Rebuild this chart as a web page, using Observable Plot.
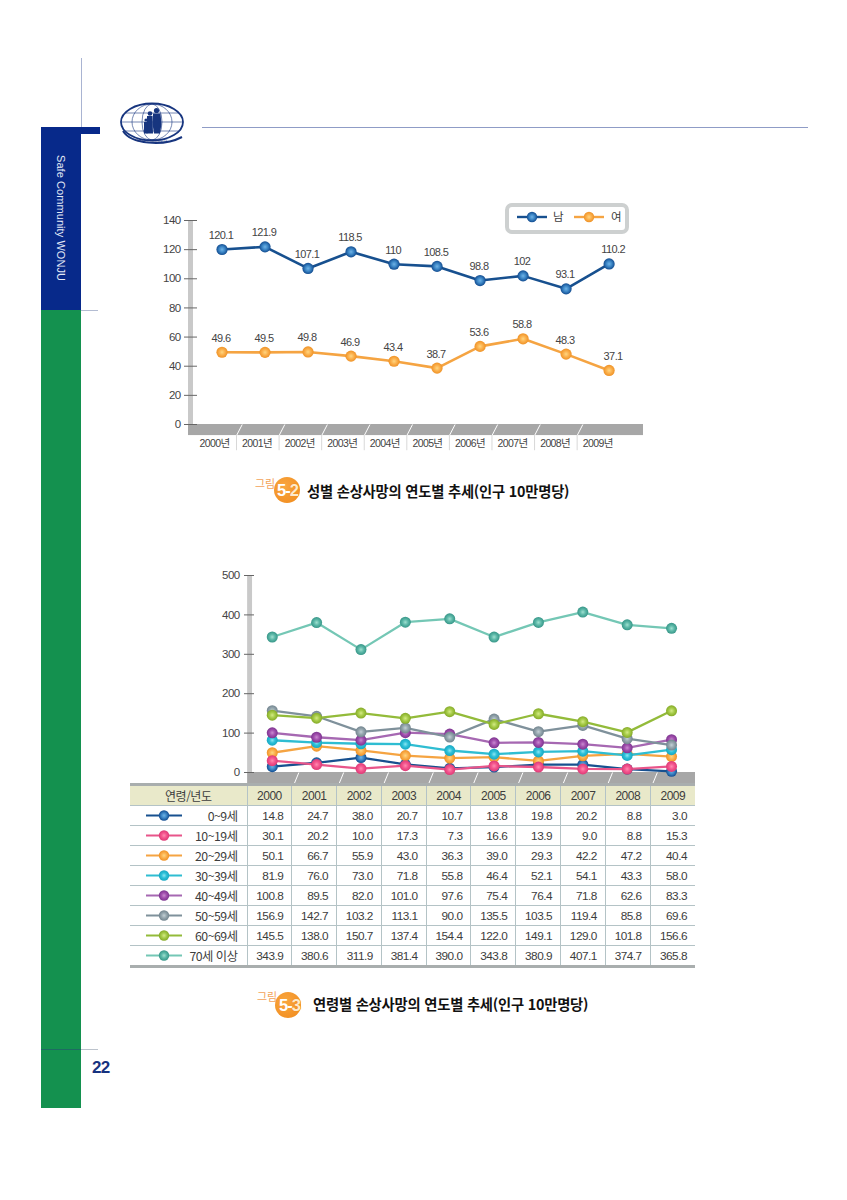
<!DOCTYPE html>
<html lang="ko">
<head>
<meta charset="utf-8">
<script src="https://cdn.jsdelivr.net/npm/d3@7"></script>
<script src="https://cdn.jsdelivr.net/npm/@observablehq/plot@0.6"></script>
<style>
html,body{margin:0;padding:0;background:#fff}
#page{position:relative;width:847px;height:1200px;overflow:hidden;font-family:"Liberation Sans","Noto Sans CJK KR",sans-serif;color:#3d3d3d}
.abs{position:absolute}
#page>svg,#c1 svg,#c2 svg{display:block}
table{border-collapse:collapse;table-layout:fixed;font-size:11.8px;letter-spacing:-.5px}
td,th{padding:0;height:19px;font-weight:normal;border:1px solid #b4c3c6;overflow:hidden;white-space:nowrap}
th{background:#e9e9ca;height:19px;text-align:center;font-size:12px}
td.n{text-align:right;padding-right:8px}
tr>*:first-child{border-left:none}
tr>*:last-child{border-right:none}
thead th{border-top:3px solid #a9aeae}
tbody tr:last-child td{border-bottom:3px solid #a9aeae}
td.k{position:relative;text-align:right;padding-right:9px;font-family:"Noto Sans CJK KR",sans-serif;font-size:12.3px}
td.k svg{position:absolute;left:16px;top:2px}
.cap{font-family:"Noto Sans CJK KR",sans-serif;font-weight:700;font-size:14.3px;color:#111;letter-spacing:-.2px;white-space:nowrap}
.badge{width:26px;height:26px;border-radius:50%;background:radial-gradient(circle at 40% 35%,#f9a63f,#f08a1c)}
.bt{font-family:"Liberation Sans",sans-serif;font-weight:700;color:#fff;font-size:16.5px;letter-spacing:-1px;white-space:nowrap}
.bt span{color:#fdeacb;text-shadow:0 0 1px #f08a1c,0 0 1px #f08a1c}
.gl{font-family:"Noto Sans CJK KR",sans-serif;color:#f3a35a;font-size:11px;white-space:nowrap}
</style>
</head>
<body>
<div id="page">
  <!-- page furniture -->
  <div class="abs" style="left:81px;top:58px;width:1px;height:69px;background:#a9b4d2"></div>
  <div class="abs" style="left:41px;top:127px;width:40px;height:183px;background:#07298a"></div>
  <div class="abs" style="left:81px;top:127px;width:19px;height:7px;background:#07298a"></div>
  <div class="abs" style="left:41px;top:310px;width:40px;height:798px;background:#14914f"></div>
  <div class="abs" style="left:81px;top:310px;width:17px;height:1px;background:#b3bcd2"></div>
  <div class="abs" style="left:41px;top:1049px;width:40px;height:1px;background:#1d6b62"></div>
  <div class="abs" style="left:81px;top:1049px;width:17px;height:1px;background:#bcc3cc"></div>
  <div class="abs" style="left:202px;top:127px;width:606px;height:1px;background:#8f9cc6"></div>
  <div class="abs" style="left:55px;top:155px;writing-mode:vertical-rl;color:#e4e9f6;font-size:11px;letter-spacing:.07px;white-space:nowrap">Safe Community WONJU</div>
  <div class="abs" style="left:92px;top:1058px;color:#16327f;font-weight:700;font-size:17px;letter-spacing:-.6px">22</div>

  <svg class="abs" style="left:117px;top:100px" width="70" height="48" viewBox="0 0 70 48">
    <g fill="none" stroke="#17357f">
      <ellipse cx="35" cy="22" rx="31" ry="18.5" stroke-width="1.8"/>
      <g stroke-width=".6">
        <ellipse cx="35" cy="22" rx="10" ry="18"/><ellipse cx="35" cy="22" rx="20" ry="18"/>
        <path d="M5 22H65M9 13H61M9 31H61"/>
      </g>
      <path d="M6 31C14 44 46 47 65 37" stroke-width="2"/>
    </g>
    <g fill="#17357f">
      <circle cx="39.500" cy="10.500" r="2.600"/><path d="M36 13.500h7.500l1 10.500-1.500 9.500h-6l-1.500-9.500z"/>
      <circle cx="33" cy="13.500" r="2.300"/><path d="M30 16h5.500l.5 17.500h-6.500z"/>
      <circle cx="29" cy="20" r="1.600"/><path d="M27 22h3.500v11.500h-3.500z"/>
    </g>
    <text x="35" y="41.500" text-anchor="middle" font-size="3.400" font-family="Liberation Sans" fill="#17357f">SAFE COMMUNITY</text>
  </svg>

  <div id="c1" class="abs" style="left:0;top:205px"></div>
  <div id="c2" class="abs" style="left:0;top:565px"></div>

  <!-- chart 1 legend -->
  <div class="abs" style="left:505px;top:203px;width:116px;height:23px;border:4px solid #cdd0d0;border-radius:7px;background:#fff"></div>
  <div id="leg" class="abs" style="left:505px;top:203px;width:124px;height:30px"></div>

  <!-- captions -->
  <div class="abs gl" style="left:255px;top:475px">그림</div>
  <div class="abs badge" style="left:274px;top:477px"></div>
  <div class="abs bt" style="left:277px;top:481px">5-<span>2</span></div>
  <div class="abs cap" style="left:307px;top:480px">성별 손상사망의 연도별 추세(인구 10만명당)</div>

  <div class="abs gl" style="left:257px;top:988px">그림</div>
  <div class="abs badge" style="left:275px;top:992px"></div>
  <div class="abs bt" style="left:279px;top:996px">5-<span>3</span></div>
  <div class="abs cap" style="left:313px;top:993px">연령별 손상사망의 연도별 추세(인구 10만명당)</div>

  <div id="tbl" class="abs" style="left:130px;top:783px"></div>
</div>

<script>
// ---------- data ----------
const years = [2000,2001,2002,2003,2004,2005,2006,2007,2008,2009];
const male   = [120.1,121.9,107.1,118.5,110,108.5,98.8,102,93.1,110.2];
const female = [49.6,49.5,49.8,46.9,43.4,38.7,53.6,58.8,48.3,37.1];
const sexNames = ["남","여"];
const ticks1 = [0,20,40,60,80,100,120,140];
const ticks2 = [0,100,200,300,400,500];

const ageNames = ["0~9세","10~19세","20~29세","30~39세","40~49세","50~59세","60~69세","70세 이상"];
const age0  = [14.8,24.7,38.0,20.7,10.7,13.8,19.8,20.2,8.8,3.0];
const age10 = [30.1,20.2,10.0,17.3,7.3,16.6,13.9,9.0,8.8,15.3];
const age20 = [50.1,66.7,55.9,43.0,36.3,39.0,29.3,42.2,47.2,40.4];
const age30 = [81.9,76.0,73.0,71.8,55.8,46.4,52.1,54.1,43.3,58.0];
const age40 = [100.8,89.5,82.0,101.0,97.6,75.4,76.4,71.8,62.6,83.3];
const age50 = [156.9,142.7,103.2,113.1,90.0,135.5,103.5,119.4,85.8,69.6];
const age60 = [145.5,138.0,150.7,137.4,154.4,122.0,149.1,129.0,101.8,156.6];
const age70 = [343.9,380.6,311.9,381.4,390.0,343.8,380.9,407.1,374.7,365.8];
const ageValues = [age0,age10,age20,age30,age40,age50,age60,age70];

// line colour, and highlight / body / rim colours for the ball markers
const ageLine  = ["#17508f","#e8558a","#f5a442","#2fbdd2","#a668b2","#7f919b","#93bb3a","#74c7b5"];
const ageLight = ["#6fb3e6","#ff8ab0","#ffd680","#8be6f3","#c98ad0","#c3d0d5","#d4ea86","#9fe0d0"];
const ageMid   = ["#3c86c6","#f4558e","#fbb14e","#2cc0d8","#a24fae","#95a6ae","#a6cc48","#5cb8a8"];
const ageDark  = ["#124c90","#dd3a76","#ef9226","#18a7c2","#7d3590","#72848e","#85aa28","#379688"];
const femaleLine = "#f5a442", maleLine = "#17508f";

// ---------- ball gradients ----------
const defs = d3.select("#page").append("svg").attr("width",0).attr("height",0)
  .style("position","absolute").append("defs");
ageNames.forEach((_,i)=>{
  const g = defs.append("radialGradient").attr("id","ball"+i).attr("cx","50%").attr("cy","50%").attr("r","50%");
  g.append("stop").attr("offset","0%").attr("stop-color",ageLight[i]);
  g.append("stop").attr("offset","50%").attr("stop-color",ageMid[i]);
  g.append("stop").attr("offset","100%").attr("stop-color",ageDark[i]);
});

// ---------- shared style ----------
const gray = "#c9c9c9", band = "#a7a7a7", ink = "#444";
const fontStyle = {fontFamily:'"Liberation Sans","Noto Sans CJK KR",sans-serif',fontSize:"11px",letterSpacing:"-.6px",background:"transparent",color:ink,overflow:"visible"};

// ---------- chart 1 ----------
const sexRows = [
  ...years.map((y,i)=>({year:y,v:male[i],s:0})),
  ...years.map((y,i)=>({year:y,v:female[i],s:1}))
];
const catPos = years.map((y,i)=>1999.826+i*0.99);
const sepPos = years.slice(0,-1).map((y,i)=>2000.337+i*0.99);
const c1 = Plot.plot({
  width:847,height:250,marginTop:15,marginBottom:31,marginLeft:197,marginRight:204,
  style:fontStyle,
  x:{domain:[1999.43,2009.80],axis:null},
  y:{domain:[0,140]},
  marks:[
    Plot.rect([0],{x1:1999.221,x2:1999.337,y1:0,y2:140,fill:gray}),
    Plot.rect([0],{x1:1999.221,x2:2009.80,y1:-7.6,y2:0,fill:band}),
    Plot.link(sepPos,{x1:d=>d,x2:d=>d+0.133,y1:-7.6,y2:0,stroke:"#fff",strokeWidth:1}),
    Plot.ruleX(sepPos,{x:d=>d,y1:-7.6,y2:-18,stroke:"#d8d8d8"}),
    Plot.axisY({ticks:ticks1,tickSize:13,tickPadding:4,label:null,stroke:"#666",fill:ink,fontSize:11.5}),
    Plot.text(years,{x:(d,i)=>catPos[i],y:-13,text:d=>d+"년",fill:ink,fontSize:10.5,letterSpacing:"-.5px"}),
    Plot.line(sexRows,{x:"year",y:"v",z:"s",stroke:d=>d.s?femaleLine:maleLine,strokeWidth:2.6}),
    Plot.dot(sexRows,{x:"year",y:"v",r:5.6,fill:d=>`url(#ball${d.s?2:0})`,stroke:null}),
    Plot.text(sexRows,{filter:d=>d.year<2009,x:"year",y:"v",dx:-1,dy:-14,text:d=>String(d.v),fill:ink}),
    Plot.text(sexRows,{filter:d=>d.year===2009,x:"year",y:"v",dx:4,dy:-14,text:d=>String(d.v),fill:ink})
  ]
});
document.getElementById("c1").append(c1);

// ---------- chart 2 ----------
const drawOrder = [0,2,1,3,4,5,6,7];
const ageRows = drawOrder.flatMap(a=>years.map((y,i)=>({year:y,v:ageValues[a][i],a})));
const sep2 = years.slice(0,-1).map((y,i)=>2000.48+i*1.01);
const c2 = Plot.plot({
  width:847,height:220,marginTop:10,marginBottom:13,marginLeft:254,marginRight:152,
  style:fontStyle,
  x:{domain:[1999.60,2009.54],axis:null},
  y:{domain:[0,500]},
  marks:[
    Plot.rect([0],{x1:1999.445,x2:1999.556,y1:0,y2:500,fill:gray}),
    Plot.rect([0],{x1:1999.445,x2:2009.54,y1:-33,y2:0,fill:band}),
    Plot.link(sep2,{x1:d=>d,x2:d=>d+0.12,y1:-33,y2:0,stroke:"#fff",strokeWidth:1}),
    Plot.axisY({ticks:ticks2,tickSize:10,tickPadding:5,label:null,stroke:"#666",fill:ink,fontSize:11.5}),
    ...drawOrder.flatMap(a=>{
      const rows = ageRows.filter(d=>d.a===a);
      return [
        Plot.line(rows,{x:"year",y:"v",stroke:ageLine[a],strokeWidth:2.3}),
        Plot.dot(rows,{x:"year",y:"v",r:5.5,fill:`url(#ball${a})`,stroke:null})
      ];
    })
  ]
});
document.getElementById("c2").append(c2);

// ---------- chart 1 legend ----------
function swatch(w,h,col,ball,r,sw){
  return `<svg width="${w}" height="${h}"><line x1="0" x2="${w}" y1="${h/2}" y2="${h/2}" stroke="${col}" stroke-width="${sw}"/><circle cx="${w/2}" cy="${h/2}" r="${r}" fill="url(#ball${ball})"/></svg>`;
}
document.getElementById("leg").innerHTML =
  `<div class="abs" style="left:12px;top:7px">${swatch(30,14,maleLine,0,5.2,2.4)}</div>`+
  `<div class="abs" style="left:48px;top:5px;font:11.5px 'Noto Sans CJK KR'">${sexNames[0]}</div>`+
  `<div class="abs" style="left:69px;top:7px">${swatch(30,14,femaleLine,2,5.2,2.4)}</div>`+
  `<div class="abs" style="left:106px;top:5px;font:11.5px 'Noto Sans CJK KR'">${sexNames[1]}</div>`;

// ---------- table ----------
const widths = [117,...years.map(()=>44.8)];
let html = `<table style="width:${d3.sum(widths)}px"><colgroup>${widths.map(w=>`<col style="width:${w}px">`).join("")}</colgroup>`;
html += `<thead><tr><th style="font-family:'Noto Sans CJK KR'">연령/년도</th>${years.map(y=>`<th>${y}</th>`).join("")}</tr></thead><tbody>`;
ageNames.forEach((n,a)=>{
  html += `<tr><td class="k">${swatch(36,15,ageLine[a],a,5.2,1.9)}${n}</td>${ageValues[a].map(v=>`<td class="n">${v.toFixed(1)}</td>`).join("")}</tr>`;
});
html += `</tbody></table>`;
document.getElementById("tbl").innerHTML = html;
</script>
</body>
</html>
